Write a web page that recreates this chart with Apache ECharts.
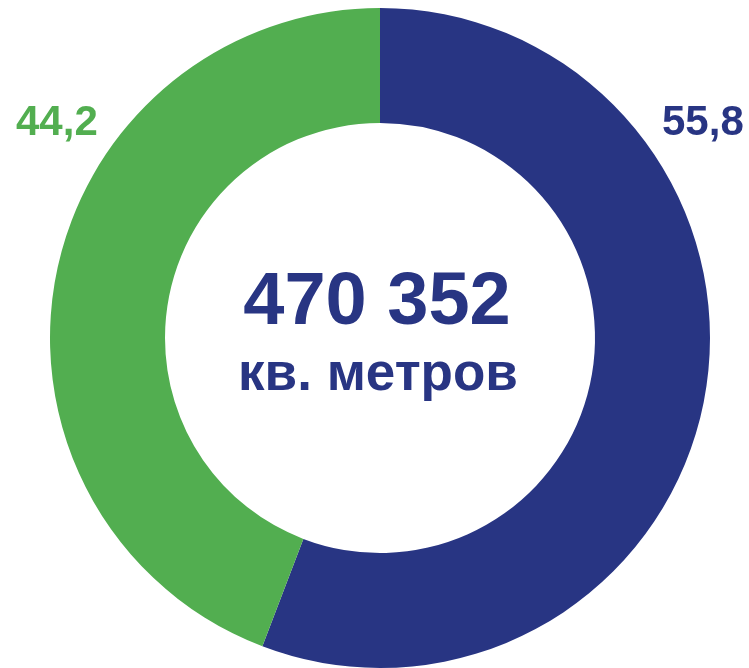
<!DOCTYPE html>
<html><head><meta charset="utf-8">
<script src="https://cdn.jsdelivr.net/npm/echarts@6/dist/echarts.min.js"></script>
<style>html,body{margin:0;padding:0;background:#fff}#c{width:749px;height:668px}</style>
</head><body><div id="c"></div>
<script>
var categories = ['Синий', 'Зелёный'];
var values = [55.8, 44.2];
var colors = ['#283583', '#52AE50'];
var totalText = '470 352';
var unitText = 'кв. метров';

function fmt(v){ return String(v).replace('.', ','); }

var chart = echarts.init(document.getElementById('c'), null, {renderer:'canvas'});
chart.setOption({
  animation: false,
  backgroundColor: '#ffffff',
  series: [{
    type: 'pie',
    center: [380, 338],
    radius: [215, 330],
    startAngle: 90,
    clockwise: true,
    label: {show: false},
    labelLine: {show: false},
    emphasis: {disabled: true},
    itemStyle: {borderWidth: 0},
    data: categories.map(function(c, i){ return {name: c, value: values[i], itemStyle: {color: colors[i]}}; })
  }],
  graphic: [
    {type:'text', left: 662, top: 102, style:{text: fmt(values[0]), font:'bold 42px "Liberation Sans", Arial, sans-serif', fill: colors[0]}},
    {type:'text', left: 16, top: 102, style:{text: fmt(values[1]), font:'bold 42px "Liberation Sans", Arial, sans-serif', fill: colors[1]}},
    {type:'text', x: 377, y: 304, style:{text: totalText, font:'bold 74px "Liberation Sans", Arial, sans-serif', fill: colors[0], align:'center', verticalAlign:'middle'}},
    {type:'text', x: 378, y: 375, style:{text: unitText, font:'bold 53px "Liberation Sans", Arial, sans-serif', fill: colors[0], align:'center', verticalAlign:'middle'}}
  ]
});
</script></body></html>
